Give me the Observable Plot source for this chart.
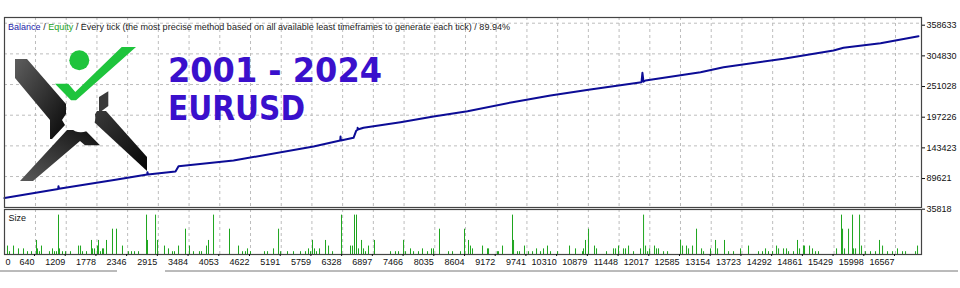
<!DOCTYPE html>
<html><head><meta charset="utf-8">
<script src="https://cdn.jsdelivr.net/npm/d3@7"></script>
<script src="https://cdn.jsdelivr.net/npm/@observablehq/plot@0.6"></script>
<style>
body{margin:0;background:#fff;}
#wrap{position:relative;width:960px;height:288px;overflow:hidden;background:#fff;}
#topPanel,#botPanel{position:absolute;left:0;}
#topPanel{top:0}
#botPanel{top:208px}
#deco{position:absolute;left:0;top:0;pointer-events:none}
</style></head><body>
<div id="wrap"><div id="topPanel"></div><div id="botPanel"></div>
<svg id="deco" width="960" height="288" xmlns="http://www.w3.org/2000/svg">
  <defs>
    <linearGradient id="gUL" x1="0" y1="0" x2="1" y2="1"><stop offset="0" stop-color="#5e5e5e"/><stop offset="1" stop-color="#080808"/></linearGradient>
    <linearGradient id="gLL" x1="0" y1="1" x2="1" y2="0"><stop offset="0" stop-color="#5a5a5a"/><stop offset="1" stop-color="#111"/></linearGradient>
    <linearGradient id="gLR" x1="0" y1="0" x2="1" y2="1"><stop offset="0" stop-color="#3a3a3a"/><stop offset="1" stop-color="#050505"/></linearGradient>
  </defs>
  <g id="logo">
    <polygon fill="url(#gUL)" points="15,59 27,59 66,104 66,114 62,120 65,125 52,139 50,139 50,120 15,78"/>
    <polygon fill="url(#gLL)" points="20,181 67,130 85,130 100,145.3 85,145.3 80,141 33,181"/>
    <polygon fill="url(#gLR)" points="97,111 106,111 147,157 147,171 94,122 94,116"/>
    <polygon fill="#3a3a3a" points="99,97 108.3,91.3 108.3,106 99,113"/>
    <circle cx="80.8" cy="117.8" r="14.5" fill="#fff"/>
    <polygon fill="#1ec43c" points="55,83.7 68.3,83.7 75.3,92 121.7,47 136,47 76,100.3 71,100.3"/>
    <circle cx="79.3" cy="60.3" r="10" fill="#1ec43c"/>
  </g>
  <text x="168" y="82" font-family="DejaVu Sans" font-weight="bold" font-size="33" fill="#3a10cc" textLength="214" lengthAdjust="spacingAndGlyphs">2001 - 2024</text>
  <text x="168" y="119.5" font-family="DejaVu Sans" font-weight="bold" font-size="33" fill="#3a10cc" textLength="137" lengthAdjust="spacingAndGlyphs">EURUSD</text>
  <text x="8" y="30" font-family="Liberation Sans" font-size="9" textLength="502" lengthAdjust="spacingAndGlyphs" style="white-space:pre"><tspan fill="#1c1ca8">Balance</tspan><tspan fill="#222"> / </tspan><tspan fill="#22a022">Equity</tspan><tspan fill="#222"> / Every tick (the most precise method based on all available least timeframes to generate each tick) / 89.94%</tspan></text>
  <line x1="0" x2="117" y1="271" y2="271" stroke="#777" stroke-width="1"/>
  <line x1="165" x2="958" y1="271" y2="271" stroke="#777" stroke-width="1"/>
</svg>
</div>
<script>
// ---- data ----
const xTickLabels = [0, 640, 1209, 1778, 2346, 2915, 3484, 4053, 4622, 5191, 5759, 6328, 6897, 7466, 8035, 8604, 9172, 9741, 10310, 10879, 11448, 12017, 12585, 13154, 13723, 14292, 14861, 15429, 15998, 16567];
const yTickLabels = [35818, 89621, 143423, 197226, 251028, 304830, 358633];

const balanceTrade = [66, 1060, 1066, 1072, 2122, 2708, 2714, 2720, 3233, 3289, 4307, 5789, 6283, 6289, 6295, 6530, 6580, 6604, 6606, 6610, 6715, 7400, 8011, 8641, 9474, 10178, 10882, 11863, 11880, 11900, 11937, 12956, 13382, 14493, 15419, 15604, 16290, 16993];
const balanceValue = [51960, 67900, 72660, 68200, 83890, 93000, 97220, 93300, 98450, 107750, 117750, 142310, 152700, 159850, 152900, 157570, 170000, 171610, 175120, 172000, 175120, 184940, 194940, 204240, 220030, 231780, 241785, 255120, 271610, 256000, 258100, 272660, 281430, 296170, 310730, 315470, 323540, 335820];

const sizeTrade = [122,159,233,325,418,492,566,659,677,714,751,899,955,992,1029,1066,1085,1140,1196,1288,1437,1474,1511,1585,1677,1696,1733,1788,1807,1844,1881,1900,1955,2066,2140,2251,2363,2418,2474,2548,2696,2714,2863,2900,3029,3103,3177,3214,3289,3418,3492,3566,3677,3715,3807,3844,3937,4233,4400,4474,4529,4566,4622,4881,4937,5048,5141,5178,5307,5418,5548,5641,5696,5733,5770,5807,5844,5900,6011,6067,6141,6307,6474,6511,6548,6585,6622,6678,6715,6752,6807,6918,7215,7307,7363,7456,7493,7585,7641,7733,7807,7900,7974,8011,8122,8289,8363,8511,8585,8659,8696,8733,8919,9011,9030,9196,9215,9289,9474,9493,9567,9604,9696,9771,9845,9919,9993,10048,10122,10178,10308,10530,10641,10771,10789,10826,10882,10993,11030,11215,11345,11382,11437,11530,11567,11623,11715,11845,11901,11938,11976,12013,12104,12141,12178,12271,12345,12586,12623,12697,12734,12808,12882,12975,13012,13141,13234,13271,13400,13475,13567,13697,13845,14030,14104,14160,14215,14289,14364,14401,14493,14549,14586,14678,14752,14790,14864,14882,14975,15030,15086,15141,15475,15567,15586,15623,15697,15771,15790,15827,15901,15938,16012,16104,16197,16271,16327,16419,16512,16604,16697,16753,16938,16975];
const sizeLots = [.03,.01,.03,.02,.02,.01,.01,.05,.02,.01,.03,.01,.02,.01,.01,.14,.02,.01,.01,.01,.03,.03,.01,.01,.05,.02,.02,.03,.05,.01,.02,.02,.05,.09,.09,.03,.01,.01,.01,.01,.14,.05,.14,.05,.03,.02,.01,.01,.03,.09,.03,.01,.01,.01,.03,.05,.14,.09,.03,.01,.01,.02,.01,.01,.01,.02,.09,.01,.01,.01,.01,.01,.02,.01,.05,.02,.01,.02,.05,.03,.01,.14,.03,.03,.14,.14,.02,.05,.02,.01,.03,.05,.01,.01,.01,.05,.01,.02,.01,.01,.02,.01,.02,.02,.09,.01,.01,.01,.09,.05,.03,.02,.03,.02,.02,.01,.01,.03,.14,.05,.01,.01,.03,.01,.01,.02,.01,.02,.03,.01,.01,.03,.02,.01,.02,.05,.09,.03,.02,.01,.02,.02,.03,.02,.02,.03,.01,.02,.14,.03,.01,.02,.03,.02,.02,.01,.01,.05,.03,.03,.02,.03,.09,.02,.01,.02,.05,.02,.05,.01,.01,.02,.03,.01,.01,.02,.01,.01,.03,.02,.02,.02,.01,.01,.05,.02,.03,.03,.03,.02,.01,.01,.02,.14,.09,.02,.09,.14,.02,.02,.14,.03,.01,.01,.01,.05,.03,.01,.01,.02,.01,.01,.01,.03];

(function () {
  const balance = balanceTrade.map((t, i) => ({t, v: balanceValue[i]}));
  const sizes = sizeTrade.map((t, i) => ({t, s: sizeLots[i]}));
  const gridTicks = xTickLabels.filter(d => d > 0);

  const xScale = {domain: [0, 17050], range: [0.44, 921.09]};
  const font = {fontFamily: "'Liberation Sans', Arial, sans-serif", fontSize: "9px", color: "#111", background: "transparent", overflow: "visible"};
  const gridStyle = {stroke: "#bdbdbd", strokeOpacity: 1, strokeDasharray: "3,3", strokeWidth: 1};

  const topPlot = Plot.plot({
    width: 960, height: 208,
    marginTop: 17, marginRight: 39, marginBottom: 1, marginLeft: 4,
    style: font,
    x: {...xScale, axis: null},
    y: {domain: [35818, 358633], range: [206.7, 22.7], axis: null},
    marks: [
      Plot.gridX(gridTicks, gridStyle),
      Plot.gridY(yTickLabels.slice(1), gridStyle),
      Plot.line(balance, {x: "t", y: "v", stroke: "#0c0c96", strokeWidth: 2}),
      Plot.frame({stroke: "#444", strokeWidth: 1.2}),
      Plot.axisY(yTickLabels, {anchor: "right", tickSize: 3, tickPadding: 2, dy: 2, tickFormat: d => String(d), label: null, fontSize: 9})
    ]
  });
  document.getElementById("topPanel").appendChild(topPlot);

  const botPlot = Plot.plot({
    width: 960, height: 80,
    marginTop: 1, marginRight: 39, marginBottom: 34, marginLeft: 4,
    style: font,
    x: {...xScale, axis: null},
    y: {domain: [0, 0.16], axis: null},
    marks: [
      Plot.gridX(gridTicks, gridStyle),
      Plot.ruleX(sizes, {x: "t", y1: 0, y2: "s", stroke: "#1ea51e", strokeWidth: 1}),
      Plot.frame({stroke: "#444", strokeWidth: 1.2}),
      Plot.text(["Size"], {frameAnchor: "top-left", dx: 4, dy: 5, fontSize: 9, fill: "#111"}),
      Plot.axisX(gridTicks, {anchor: "bottom", tickSize: 2, tickPadding: 2, textAnchor: "end", dx: -1, tickFormat: d => String(d), label: null, fontSize: 9}),
      Plot.axisX(xTickLabels.filter(d => d === 0), {anchor: "bottom", tickSize: 0, tickPadding: 4, textAnchor: "start", dx: 4.5, tickFormat: d => String(d), label: null, fontSize: 9})
    ]
  });
  document.getElementById("botPanel").appendChild(botPlot);
})();
</script>
</body></html>
